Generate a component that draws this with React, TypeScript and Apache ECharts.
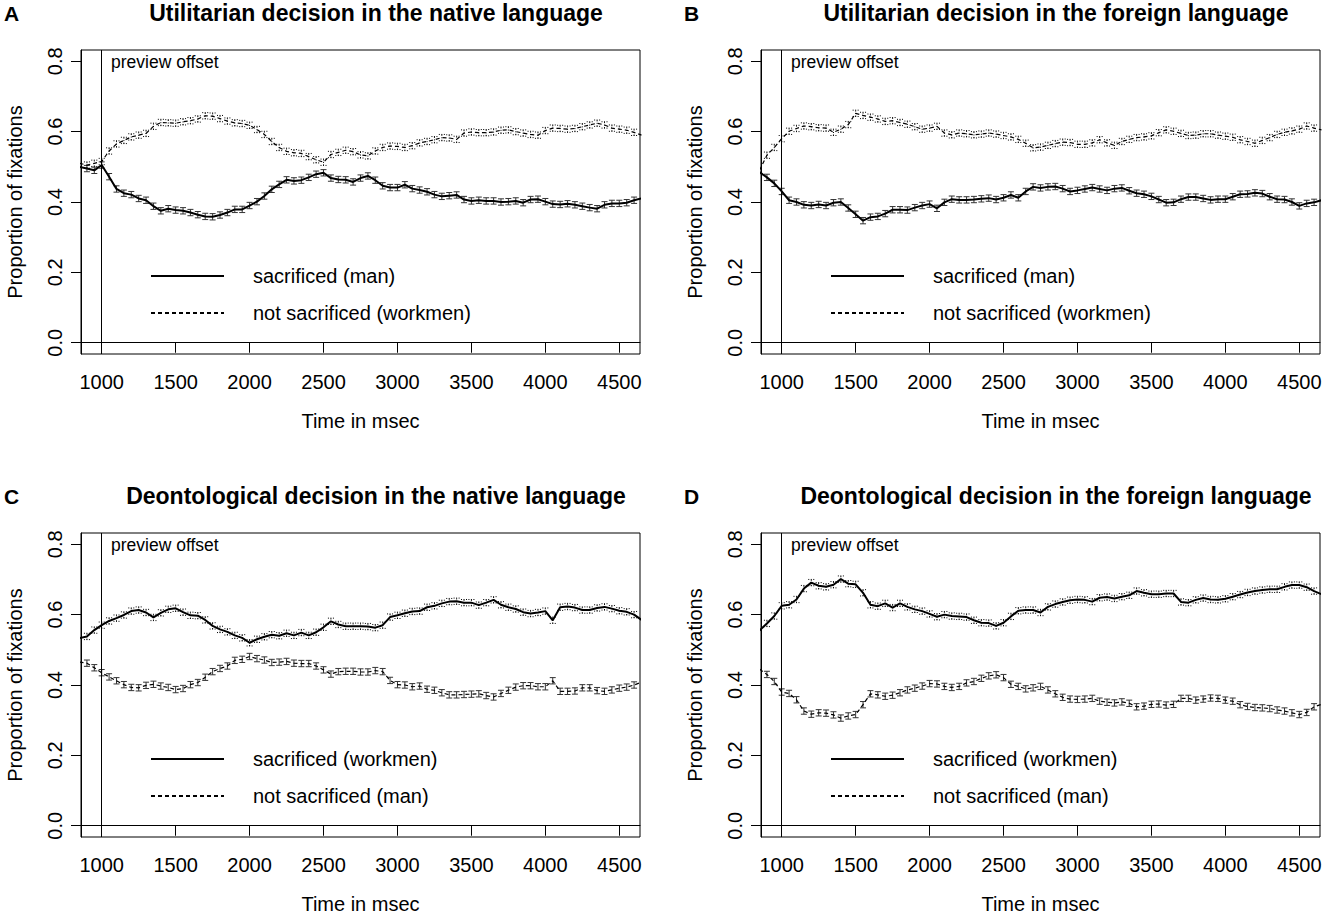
import React, { useEffect, useRef } from "react";
import * as echarts from "echarts";

// ---------- data ----------
const TIME = [
  850, 900, 950, 1000, 1050, 1100, 1150, 1200, 1250, 1300,
  1350, 1400, 1450, 1500, 1550, 1600, 1650, 1700, 1750, 1800,
  1850, 1900, 1950, 2000, 2050, 2100, 2150, 2200, 2250, 2300,
  2350, 2400, 2450, 2500, 2550, 2600, 2650, 2700, 2750, 2800,
  2850, 2900, 2950, 3000, 3050, 3100, 3150, 3200, 3250, 3300,
  3350, 3400, 3450, 3500, 3550, 3600, 3650, 3700, 3750, 3800,
  3850, 3900, 3950, 4000, 4050, 4100, 4150, 4200, 4250, 4300,
  4350, 4400, 4450, 4500, 4550, 4600, 4650,
];

const X_TICKS = [1000, 1500, 2000, 2500, 3000, 3500, 4000, 4500];
const Y_TICKS = [0, 0.2, 0.4, 0.6, 0.8];

// Panel A: utilitarian, native
const A_MAN = [
  0.500, 0.495, 0.490, 0.505, 0.472, 0.437, 0.425, 0.421, 0.410, 0.405,
  0.388, 0.375, 0.381, 0.377, 0.375, 0.370, 0.364, 0.359, 0.358, 0.363,
  0.370, 0.379, 0.379, 0.390, 0.401, 0.417, 0.436, 0.450, 0.463, 0.460,
  0.462, 0.470, 0.479, 0.483, 0.468, 0.464, 0.463, 0.457, 0.468, 0.474,
  0.462, 0.446, 0.441, 0.441, 0.449, 0.438, 0.434, 0.429, 0.421, 0.416,
  0.418, 0.420, 0.407, 0.403, 0.405, 0.403, 0.403, 0.400, 0.401, 0.403,
  0.398, 0.407, 0.408, 0.401, 0.394, 0.393, 0.395, 0.392, 0.388, 0.384,
  0.381, 0.392, 0.396, 0.396, 0.398, 0.405, 0.410,
];
const A_WORKMEN = [
  0.510, 0.505, 0.510, 0.515, 0.545, 0.565, 0.575, 0.585, 0.590, 0.595,
  0.615, 0.626, 0.625, 0.624, 0.628, 0.631, 0.636, 0.645, 0.644, 0.637,
  0.630, 0.625, 0.623, 0.618, 0.606, 0.592, 0.572, 0.555, 0.544, 0.540,
  0.538, 0.529, 0.520, 0.513, 0.535, 0.541, 0.547, 0.543, 0.534, 0.531,
  0.545, 0.555, 0.559, 0.558, 0.555, 0.560, 0.568, 0.572, 0.577, 0.583,
  0.582, 0.578, 0.596, 0.599, 0.597, 0.597, 0.599, 0.604, 0.605, 0.600,
  0.596, 0.592, 0.590, 0.603, 0.610, 0.609, 0.607, 0.609, 0.614, 0.619,
  0.624, 0.619, 0.610, 0.607, 0.604, 0.598, 0.590,
];

// Panel B: utilitarian, foreign
const B_MAN = [
  0.485, 0.470, 0.453, 0.430, 0.405, 0.400, 0.392, 0.390, 0.393, 0.390,
  0.398, 0.400, 0.383, 0.365, 0.347, 0.357, 0.359, 0.367, 0.378, 0.378,
  0.377, 0.384, 0.390, 0.394, 0.382, 0.399, 0.408, 0.406, 0.406, 0.407,
  0.409, 0.411, 0.407, 0.412, 0.420, 0.412, 0.430, 0.443, 0.440, 0.443,
  0.444, 0.438, 0.430, 0.433, 0.437, 0.441, 0.437, 0.433, 0.438, 0.440,
  0.432, 0.425, 0.422, 0.416, 0.407, 0.398, 0.399, 0.408, 0.414, 0.414,
  0.410, 0.406, 0.408, 0.408, 0.415, 0.422, 0.423, 0.426, 0.424, 0.415,
  0.408, 0.407, 0.400, 0.389, 0.396, 0.399, 0.405,
];
const B_WORKMEN = [
  0.490, 0.533, 0.555, 0.580, 0.601, 0.609, 0.616, 0.614, 0.611, 0.610,
  0.598, 0.607, 0.620, 0.652, 0.646, 0.641, 0.636, 0.629, 0.631, 0.626,
  0.621, 0.614, 0.607, 0.610, 0.615, 0.596, 0.591, 0.596, 0.594, 0.591,
  0.593, 0.596, 0.593, 0.589, 0.585, 0.578, 0.567, 0.554, 0.556, 0.561,
  0.566, 0.570, 0.569, 0.564, 0.564, 0.568, 0.577, 0.568, 0.561, 0.572,
  0.578, 0.583, 0.585, 0.588, 0.597, 0.605, 0.601, 0.595, 0.589, 0.590,
  0.594, 0.594, 0.590, 0.587, 0.584, 0.577, 0.572, 0.567, 0.575, 0.583,
  0.592, 0.598, 0.602, 0.607, 0.616, 0.610, 0.605,
];

// Panel C: deontological, native
const C_WORKMEN = [
  0.533, 0.538, 0.556, 0.570, 0.582, 0.590, 0.599, 0.610, 0.613, 0.606,
  0.592, 0.605, 0.615, 0.618, 0.607, 0.598, 0.597, 0.585, 0.568, 0.558,
  0.551, 0.541, 0.534, 0.520, 0.530, 0.537, 0.543, 0.540, 0.547, 0.541,
  0.549, 0.541, 0.550, 0.564, 0.581, 0.572, 0.567, 0.567, 0.567, 0.566,
  0.563, 0.570, 0.593, 0.598, 0.604, 0.609, 0.610, 0.621, 0.625, 0.632,
  0.637, 0.638, 0.634, 0.634, 0.627, 0.634, 0.642, 0.628, 0.621, 0.616,
  0.607, 0.603, 0.606, 0.610, 0.584, 0.621, 0.623, 0.620, 0.613, 0.613,
  0.619, 0.622, 0.617, 0.611, 0.608, 0.600, 0.585,
];
const C_MAN = [
  0.465, 0.462, 0.449, 0.435, 0.423, 0.412, 0.401, 0.393, 0.392, 0.399,
  0.402, 0.397, 0.393, 0.387, 0.390, 0.401, 0.407, 0.422, 0.438, 0.447,
  0.454, 0.470, 0.473, 0.481, 0.475, 0.471, 0.464, 0.465, 0.467, 0.462,
  0.461, 0.461, 0.454, 0.443, 0.431, 0.438, 0.439, 0.439, 0.437, 0.437,
  0.441, 0.438, 0.413, 0.401, 0.400, 0.395, 0.397, 0.388, 0.385, 0.378,
  0.372, 0.372, 0.373, 0.374, 0.375, 0.370, 0.366, 0.376, 0.385, 0.394,
  0.398, 0.398, 0.395, 0.395, 0.412, 0.382, 0.382, 0.383, 0.392, 0.392,
  0.384, 0.382, 0.386, 0.391, 0.394, 0.400, 0.408,
];

// Panel D: deontological, foreign
const D_WORKMEN = [
  0.555, 0.575, 0.596, 0.625, 0.628, 0.643, 0.674, 0.691, 0.682, 0.679,
  0.685, 0.701, 0.688, 0.686, 0.662, 0.628, 0.624, 0.632, 0.620, 0.632,
  0.622, 0.615, 0.610, 0.602, 0.594, 0.600, 0.596, 0.595, 0.593, 0.584,
  0.577, 0.576, 0.568, 0.577, 0.595, 0.611, 0.613, 0.613, 0.606, 0.622,
  0.630, 0.636, 0.641, 0.643, 0.642, 0.637, 0.648, 0.650, 0.646, 0.651,
  0.655, 0.667, 0.662, 0.658, 0.658, 0.660, 0.660, 0.636, 0.634, 0.642,
  0.647, 0.643, 0.642, 0.645, 0.651, 0.657, 0.663, 0.667, 0.670, 0.672,
  0.672, 0.679, 0.684, 0.684, 0.678, 0.667, 0.658,
];
const D_MAN = [
  0.445, 0.430, 0.410, 0.380, 0.376, 0.358, 0.326, 0.317, 0.321, 0.320,
  0.315, 0.306, 0.312, 0.316, 0.344, 0.375, 0.372, 0.368, 0.371, 0.378,
  0.386, 0.391, 0.397, 0.404, 0.403, 0.396, 0.393, 0.396, 0.406, 0.410,
  0.419, 0.426, 0.429, 0.421, 0.402, 0.396, 0.389, 0.392, 0.396, 0.386,
  0.375, 0.365, 0.360, 0.359, 0.360, 0.362, 0.354, 0.351, 0.349, 0.352,
  0.348, 0.338, 0.340, 0.345, 0.346, 0.343, 0.345, 0.362, 0.362, 0.357,
  0.360, 0.363, 0.362, 0.357, 0.354, 0.344, 0.339, 0.336, 0.335, 0.333,
  0.329, 0.326, 0.321, 0.316, 0.322, 0.338, 0.345,
];

// standard errors (half height of error bars)
const SE_MAN = 0.009;
const SE_WORKMEN = 0.009;

const TITLES = [
  "Utilitarian decision in the native language",
  "Utilitarian decision in the foreign language",
  "Deontological decision in the native language",
  "Deontological decision in the foreign language",
];
const LETTERS = ["A", "B", "C", "D"];
const LEGEND_UTIL = ["sacrificed (man)", "not sacrificed (workmen)"];
const LEGEND_DEON = ["sacrificed (workmen)", "not sacrificed (man)"];

const X_MIN = 860;
const X_MAX = 4640;
const Y_MIN = -0.032;
const Y_MAX = 0.832;
const OFFSET_TIME = 1000;

const FONT = "Liberation Sans, Arial, Helvetica, sans-serif";

// ---------- layout ----------
const GRID_W = 559;
const GRID_H = 304;
const GRID_POS = [
  { left: 81, top: 50 },
  { left: 761, top: 50 },
  { left: 81, top: 533 },
  { left: 761, top: 533 },
];

type Panel = {
  solid: number[];
  dashed: number[];
  solidName: string;
  dashedName: string;
  solidIsMan: boolean;
};

const PANELS: Panel[] = [
  { solid: A_MAN, dashed: A_WORKMEN, solidName: LEGEND_UTIL[0], dashedName: LEGEND_UTIL[1], solidIsMan: true },
  { solid: B_MAN, dashed: B_WORKMEN, solidName: LEGEND_UTIL[0], dashedName: LEGEND_UTIL[1], solidIsMan: true },
  { solid: C_WORKMEN, dashed: C_MAN, solidName: LEGEND_DEON[0], dashedName: LEGEND_DEON[1], solidIsMan: false },
  { solid: D_WORKMEN, dashed: D_MAN, solidName: LEGEND_DEON[0], dashedName: LEGEND_DEON[1], solidIsMan: false },
];

function errorSeries(vals: number[], se: number, idx: number, dotted: boolean, name: string) {
  const data = TIME.map((t, i) => [t, vals[i] - se, vals[i] + se]).filter(
    (d) => d[0] >= X_MIN && d[0] <= X_MAX
  );
  return {
    type: "custom",
    name,
    xAxisIndex: idx,
    yAxisIndex: idx,
    z: 2,
    silent: true,
    encode: { x: 0, y: [1, 2] },
    data,
    renderItem: (params: any, api: any) => {
      const x = api.value(0);
      const p1 = api.coord([x, api.value(1)]);
      const p2 = api.coord([x, api.value(2)]);
      const hw = 3;
      const style: any = {
        stroke: dotted ? "#000" : "#333",
        lineWidth: 1,
        lineDash: dotted ? [1, 1.5] : null,
        fill: null,
      };
      return {
        type: "group",
        children: [
          { type: "line", shape: { x1: p1[0], y1: p1[1], x2: p2[0], y2: p2[1] }, style },
          { type: "line", shape: { x1: p1[0] - hw, y1: p1[1], x2: p1[0] + hw, y2: p1[1] }, style },
          { type: "line", shape: { x1: p2[0] - hw, y1: p2[1], x2: p2[0] + hw, y2: p2[1] }, style },
        ],
      };
    },
  };
}

function buildOption() {
  const grid: any[] = [];
  const xAxis: any[] = [];
  const yAxis: any[] = [];
  const series: any[] = [];
  const legend: any[] = [];
  const graphic: any[] = [];

  PANELS.forEach((p, i) => {
    const g = GRID_POS[i];
    grid.push({
      left: g.left,
      top: g.top,
      width: GRID_W,
      height: GRID_H,
      show: true,
      borderColor: "#000",
      borderWidth: 1,
      backgroundColor: "transparent",
    });
    xAxis.push({
      type: "value",
      gridIndex: i,
      min: X_MIN,
      max: X_MAX,
      name: "Time in msec",
      nameLocation: "middle",
      nameGap: 57,
      nameTextStyle: { fontSize: 20, color: "#000", fontFamily: FONT },
      axisLine: { show: true, lineStyle: { color: "#000", width: 1 } },
      axisTick: {
        show: true,
        length: 10,
        inside: false,
        customValues: X_TICKS,
        lineStyle: { color: "#000", width: 1 },
      },
      axisLabel: {
        show: true,
        customValues: X_TICKS,
        fontSize: 20,
        color: "#000",
        fontFamily: FONT,
        margin: 18,
        formatter: (v: number) => String(v),
      },
      splitLine: { show: false },
    });
    yAxis.push({
      type: "value",
      gridIndex: i,
      min: Y_MIN,
      max: Y_MAX,
      name: "Proportion of fixations",
      nameLocation: "middle",
      nameGap: 56,
      nameTextStyle: { fontSize: 20, color: "#000", fontFamily: FONT },
      axisLine: { show: true, lineStyle: { color: "#000", width: 1 } },
      axisTick: {
        show: true,
        length: 10,
        inside: false,
        customValues: Y_TICKS,
        lineStyle: { color: "#000", width: 1 },
      },
      axisLabel: {
        show: true,
        customValues: Y_TICKS,
        rotate: 90,
        fontSize: 20,
        color: "#000",
        fontFamily: FONT,
        margin: 16,
        formatter: (v: number) => v.toFixed(1),
      },
      splitLine: { show: false },
    });

    const solidErr = errorSeries(p.solid, p.solidIsMan ? SE_MAN : SE_WORKMEN, i, !p.solidIsMan, `err-solid-${i}`);
    const dashedErr = errorSeries(p.dashed, p.solidIsMan ? SE_WORKMEN : SE_MAN, i, p.solidIsMan, `err-dashed-${i}`);
    series.push(solidErr, dashedErr);

    series.push({
      type: "line",
      name: p.solidName,
      xAxisIndex: i,
      yAxisIndex: i,
      data: TIME.map((t, k) => [t, p.solid[k]]),
      symbol: "none",
      showSymbol: false,
      z: 3,
      silent: true,
      color: "#000",
      lineStyle: { color: "#000", width: 2, type: "solid" },
      markLine: {
        silent: true,
        symbol: ["none", "none"],
        label: { show: false },
        lineStyle: { color: "#000", width: 1, type: "solid" },
        data: [{ xAxis: OFFSET_TIME }],
      },
    });
    series.push({
      type: "line",
      name: p.dashedName,
      xAxisIndex: i,
      yAxisIndex: i,
      data: TIME.map((t, k) => [t, p.dashed[k]]),
      symbol: "none",
      showSymbol: false,
      z: 3,
      silent: true,
      color: "#000",
      lineStyle: { color: "#000", width: 1.2, type: [4, 3] },
    });

    legend.push({
      orient: "vertical",
      left: g.left + 64,
      top: g.top + 211,
      itemWidth: 73,
      itemHeight: 14,
      itemGap: 17,
      selectedMode: false,
      itemStyle: { opacity: 0, borderWidth: 0 },
      data: [p.solidName, p.dashedName],
      textStyle: {
        fontSize: 20,
        color: "#000",
        fontFamily: FONT,
        lineHeight: 20,
        padding: [0, 0, 0, 24],
      },
    });

    const titleX = g.left + 295;
    graphic.push({
      type: "text",
      x: titleX,
      y: g.top - 37,
      style: {
        text: TITLES[i],
        fontSize: 23,
        fontWeight: "bold",
        fontFamily: FONT,
        fill: "#000",
        align: "center",
        verticalAlign: "middle",
      },
    });
    graphic.push({
      type: "text",
      x: g.left - 77,
      y: g.top - 37,
      style: {
        text: LETTERS[i],
        fontSize: 21,
        fontWeight: "bold",
        fontFamily: FONT,
        fill: "#000",
        align: "left",
        verticalAlign: "middle",
      },
    });
    graphic.push({
      type: "text",
      x: g.left + 30,
      y: g.top + 12,
      style: {
        text: "preview offset",
        fontSize: 17.5,
        fontFamily: FONT,
        fill: "#000",
        align: "left",
        verticalAlign: "middle",
      },
    });
  });

  return {
    animation: false,
    backgroundColor: "#fff",
    textStyle: { fontFamily: FONT },
    grid,
    xAxis,
    yAxis,
    legend,
    series,
    graphic,
  };
}

export default function App() {
  const ref = useRef<HTMLDivElement>(null);
  useEffect(() => {
    if (!ref.current) return;
    const chart = echarts.init(ref.current, undefined, { renderer: "svg" });
    chart.setOption(buildOption() as any);
    return () => chart.dispose();
  }, []);
  return (
    <div
      ref={ref}
      style={{ position: "absolute", left: 0, top: 0, width: 1325, height: 915, background: "#fff" }}
    />
  );
}
